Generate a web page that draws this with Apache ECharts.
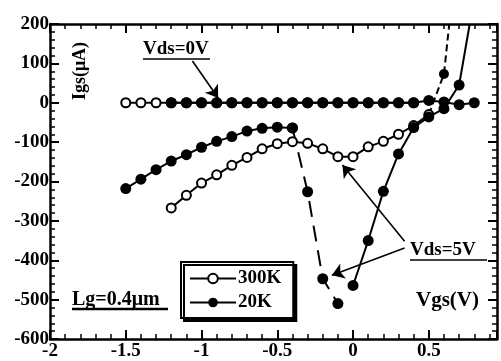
<!DOCTYPE html>
<html>
<head>
<meta charset="utf-8">
<script src="https://cdn.jsdelivr.net/npm/echarts@6/dist/echarts.min.js"></script>
<style>
  html, body { margin: 0; padding: 0; background: #fff; }
  #main { width: 501px; height: 361px; }
</style>
</head>
<body>
<div id="main"></div>
<script>
// Vds = 0V
const vgs0_300K = [-1.5, -1.4, -1.3, -1.2, -1.1, -1.0, -0.9, -0.8, -0.7, -0.6, -0.5, -0.4, -0.3, -0.2, -0.1, 0.0, 0.1, 0.2, 0.3, 0.4];
const igs0_300K = [0, 0, 0, 0, 0, 0, 0, 0, 0, 0, 0, 0, 0, 0, 0, 0, 0, 0, 0, 0];
const vgs0_20K = [-1.2, -1.1, -1.0, -0.9, -0.8, -0.7, -0.6, -0.5, -0.4, -0.3, -0.2, -0.1, 0.0, 0.1, 0.2, 0.3, 0.4, 0.5, 0.6, 0.7, 0.8];
const igs0_20K = [0, 0, 0, 0, 0, 0, 0, 0, 0, 0, 0, 0, 0, 0, 0, 0, 0, 6, 2, -5, 0];

// Vds = 5V, 300K
const vgs5_300K = [-1.2, -1.1, -1.0, -0.9, -0.8, -0.7, -0.6, -0.5, -0.4, -0.3, -0.2, -0.1, 0.0, 0.1, 0.2, 0.3, 0.4, 0.5];
const igs5_300K = [-267, -235, -204, -183, -159, -139, -117, -104, -99, -103, -117, -137, -137, -112, -98, -80, -58, -30];
const vgs5_300K_rise = [0.5, 0.6, 0.635];
const igs5_300K_rise = [-30, 73, 200];

// Vds = 5V, 20K
const vgs5_20K_a = [-1.5, -1.4, -1.3, -1.2, -1.1, -1.0, -0.9, -0.8, -0.7, -0.6, -0.5, -0.4];
const igs5_20K_a = [-218, -194, -170, -148, -132, -113, -98, -86, -72, -65, -62, -64];
const vgs5_20K_drop = [-0.4, -0.3, -0.2, -0.1];
const igs5_20K_drop = [-64, -226, -447, -510];
const vgs5_20K_b = [0.0, 0.1, 0.2, 0.3, 0.4, 0.5, 0.6, 0.7, 0.77];
const igs5_20K_b = [-464, -350, -225, -130, -63, -36, -15, 45, 200];

const xTicks = { min: -2, max: 0.95, interval: 0.5 };
const yTicks = { min: -600, max: 200, interval: 100 };

const FONT = 'Liberation Serif';
const pairs = (xs, ys) => xs.map((x, i) => [x, ys[i]]);

const chart = echarts.init(document.getElementById('main'));

const axisCommon = {
  type: 'value',
  axisLine: { show: true, onZero: false, lineStyle: { color: '#000', width: 2.5 } },
  axisTick: { show: true, inside: true, length: 9, lineStyle: { color: '#000', width: 2 } },
  minorTick: { show: true, splitNumber: 5, length: 5, lineStyle: { color: '#000', width: 1.5 } },
  splitLine: { show: false },
  minorSplitLine: { show: false }
};

const openSym = {
  symbol: 'emptyCircle',
  symbolSize: 9,
  itemStyle: { color: '#000', borderColor: '#000', borderWidth: 2 },
  lineStyle: { color: '#000', width: 2 }
};
const fillSym = {
  symbol: 'circle',
  symbolSize: 11,
  itemStyle: { color: '#000' },
  lineStyle: { color: '#000', width: 2 }
};

const option = {
  animation: false,
  backgroundColor: '#fff',
  grid: { left: 50, right: 4, top: 24, bottom: 19 },
  xAxis: [
    Object.assign({}, axisCommon, {
      position: 'bottom', min: xTicks.min, max: xTicks.max, interval: xTicks.interval,
      axisLabel: {
        showMaxLabel: false, margin: 3, color: '#000',
        fontFamily: FONT, fontWeight: 'bold', fontSize: 19
      }
    }),
    Object.assign({}, axisCommon, {
      position: 'top', min: xTicks.min, max: xTicks.max, interval: xTicks.interval,
      axisLabel: { show: false }
    })
  ],
  yAxis: [
    Object.assign({}, axisCommon, {
      position: 'left', min: yTicks.min, max: yTicks.max, interval: yTicks.interval,
      axisLabel: {
        margin: 1, color: '#000',
        fontFamily: FONT, fontWeight: 'bold', fontSize: 19
      }
    }),
    Object.assign({}, axisCommon, {
      position: 'right', min: yTicks.min, max: yTicks.max, interval: yTicks.interval,
      axisLabel: { show: false }
    })
  ],
  legend: {
    data: ['300K', '20K'],
    orient: 'vertical',
    left: 181,
    top: 262,
    padding: [7, 12, 6, 8],
    itemGap: 5,
    itemWidth: 46,
    itemHeight: 12,
    selectedMode: false,
    backgroundColor: '#fff',
    borderColor: '#000',
    borderWidth: 2,
    shadowColor: '#000',
    shadowBlur: 0,
    shadowOffsetX: 3,
    shadowOffsetY: 3,
    textStyle: { color: '#000', fontFamily: FONT, fontWeight: 'bold', fontSize: 19, padding: [0, 0, 0, -3] }
  },
  series: [
    Object.assign({ name: '300K', type: 'line', data: pairs(vgs0_300K, igs0_300K) }, openSym),
    Object.assign({ name: '300K', type: 'line', data: pairs(vgs5_300K, igs5_300K) }, openSym),
    {
      name: '300K rise', type: 'line', data: pairs(vgs5_300K_rise, igs5_300K_rise),
      symbol: 'circle',
      symbolSize: (v, p) => (p.dataIndex === 1 ? 10 : 0),
      itemStyle: { color: '#000' },
      lineStyle: { color: '#000', width: 2, type: [7, 4] }
    },
    Object.assign({ name: '20K', type: 'line', data: pairs(vgs0_20K, igs0_20K) }, fillSym),
    Object.assign({ name: '20K', type: 'line', data: pairs(vgs5_20K_a, igs5_20K_a) }, fillSym),
    {
      name: '20K drop', type: 'line', data: pairs(vgs5_20K_drop, igs5_20K_drop),
      symbol: 'circle', symbolSize: 11,
      itemStyle: { color: '#000' },
      lineStyle: { color: '#000', width: 2, type: [16, 9] }
    },
    Object.assign({ name: '20K', type: 'line', data: pairs(vgs5_20K_b, igs5_20K_b) }, fillSym, {
      symbolSize: (v, p) => (p.dataIndex === vgs5_20K_b.length - 1 ? 0 : 11)
    }),
    {
      name: 'arrows', type: 'line', data: [],
      itemStyle: { color: '#000' },
      markLine: {
        silent: true,
        symbol: ['none', 'arrow'],
        symbolSize: 12,
        label: { show: false },
        itemStyle: { color: '#000' },
        lineStyle: { color: '#000', width: 1.6, type: 'solid' },
        data: [
          [{ coord: [-1.06, 106] }, { coord: [-0.89, 12] }],
          [{ coord: [0.34, -352] }, { coord: [-0.07, -158] }],
          [{ coord: [0.34, -369] }, { coord: [-0.14, -438] }]
        ]
      }
    }
  ],
  graphic: [
    { type: 'text', left: 143, top: 40, style: { text: 'Vds=0V', fill: '#000', font: 'bold 19px "Liberation Serif"' } },
    { type: 'line', shape: { x1: 143, y1: 59, x2: 210, y2: 59 }, style: { stroke: '#000', lineWidth: 1.5 } },
    { type: 'text', left: 410, top: 241, style: { text: 'Vds=5V', fill: '#000', font: 'bold 19px "Liberation Serif"' } },
    { type: 'line', shape: { x1: 410, y1: 260, x2: 487, y2: 260 }, style: { stroke: '#000', lineWidth: 1.5 } },
    { type: 'text', left: 72, top: 290, style: { text: 'Lg=0.4μm', fill: '#000', font: 'bold 20px "Liberation Serif"' } },
    { type: 'line', shape: { x1: 72, y1: 309, x2: 168, y2: 309 }, style: { stroke: '#000', lineWidth: 2.5 } },
    { type: 'text', left: 416, top: 290, style: { text: 'Vgs(V)', fill: '#000', font: 'bold 21px "Liberation Serif"' } },
    {
      type: 'text', x: 80, y: 71, rotation: Math.PI / 2,
      style: { text: 'Igs(μA)', fill: '#000', font: 'bold 18px "Liberation Serif"', textAlign: 'center', textVerticalAlign: 'middle' }
    }
  ]
};

chart.setOption(option);
</script>
</body>
</html>
